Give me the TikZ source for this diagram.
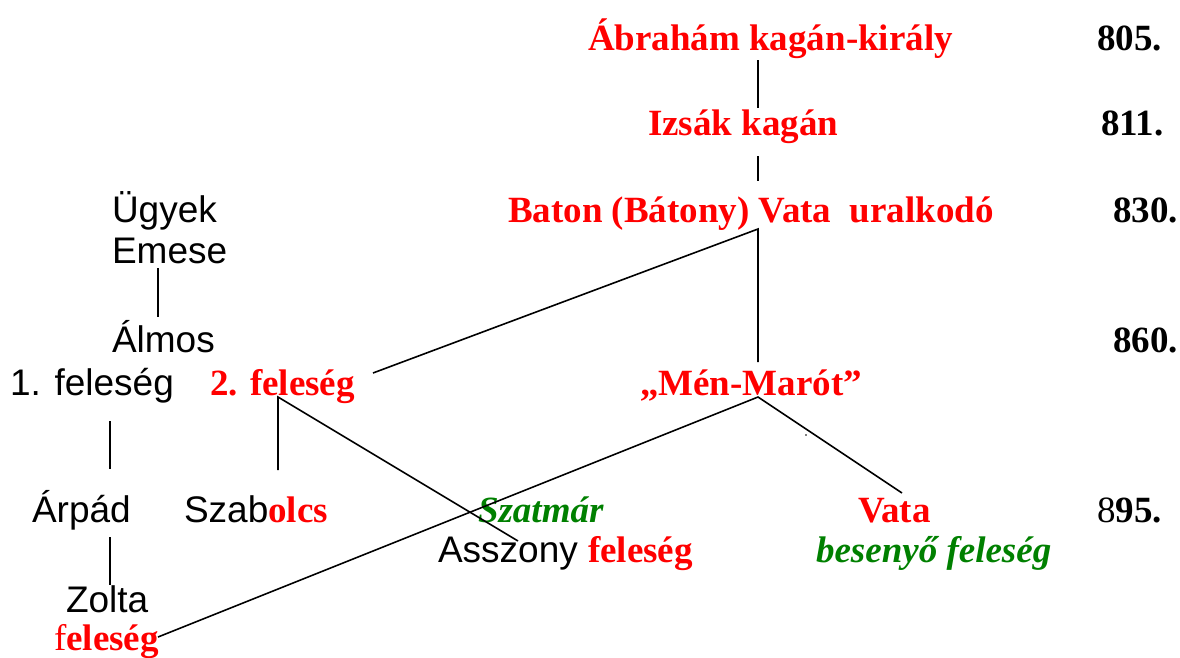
\documentclass[tikz,border=0pt]{standalone}
\usepackage{fontspec}
\setmainfont{Liberation Serif}
\newfontfamily\arialfont{Liberation Sans}
\definecolor{myred}{RGB}{255,0,0}
\definecolor{mygreen}{RGB}{0,128,0}
\newcommand{\fsz}{\fontsize{37}{41}\selectfont}
\tikzset{
  txt/.style={anchor=base west, inner sep=0pt, outer sep=0pt, font=\fsz},
  rb/.style={txt, text=myred, font=\fsz\bfseries},
  kb/.style={txt, text=black, font=\fsz\bfseries},
  sn/.style={txt, text=black, font=\fsz\arialfont},
  gbi/.style={txt, text=mygreen, font=\fsz\bfseries\itshape},
  conn/.style={draw=black, line width=1.6pt}
}
\newcommand{\rbf}[1]{{\color{myred}\rmfamily\bfseries #1}}
\begin{document}
\begin{tikzpicture}[x=1pt,y=-1pt]
\useasboundingbox (0,0) rectangle (1180,657);
% texts
\node[rb] (abr) at (588,50) {Ábrahám kagán-király};
\node[kb] (y805) at (1097,50) {805.};
\node[rb] (izs) at (648,135) {Izsák kagán};
\node[kb] (y811) at (1101,135) {811.};
\node[rb] (bat) at (508,222) {Baton (Bátony) Vata\ \ uralkodó};
\node[kb] (y830) at (1113,222) {830.};
\node[sn] (ugy) at (112,222) {Ügyek};
\node[sn] (eme) at (112,263) {Emese};
\node[sn] (alm) at (112,352) {Álmos};
\node[kb] (y860) at (1113,352) {860.};
\node[sn] (f1) at (10,395) {1. feleség};
\node[rb] (f2) at (210,395) {2. feleség};
\node[rb] (men) at (640,395) {„Mén-Marót”};
\node[sn] (arp) at (32,522) {Árpád};
\node[sn] (szab) at (184,522) {Szab\rbf{olcs}};
\node[gbi] (szat) at (478,522) {Szatmár};
\node[rb] (vata) at (858,522) {Vata};
\node[txt] (y895) at (1097,522) {8\textbf{95.}};
\node[sn] (assz) at (438,562) {Asszony \rbf{feleség}};
\node[gbi] (bes) at (816,562) {besenyő feleség};
\node[sn] (zol) at (66,612) {Zolta};
\node[txt, text=myred] (zf) at (54,650) {f\textbf{eleség}};
% connector points
\coordinate (abrB) at (758,60);
\coordinate (izsT) at (758,108);
\coordinate (izsB) at (758,156);
\coordinate (batT) at (758,181);
\coordinate (batV) at (758,229);
\coordinate (f2R) at (373,373);
\coordinate (menT) at (758,362);
\coordinate (emeB) at (158,268);
\coordinate (almT) at (158,317);
\coordinate (menV) at (758,397);
\coordinate (zfR) at (158,637);
\coordinate (vataT) at (902,493);
\coordinate (f2V) at (278,397);
\coordinate (szabT) at (278,470);
\coordinate (asszT) at (518,541);
\coordinate (f1B) at (110,421);
\coordinate (arpT) at (110,469);
\coordinate (arpB) at (110,537);
\coordinate (zolT) at (110,585);
% connectors
\draw[conn] (abrB) -- (izsT);
\draw[conn] (izsB) -- (batT);
\draw[conn] (f2R) -- (batV) -- (menT);
\draw[conn] (emeB) -- (almT);
\draw[conn] (zfR) -- (menV) -- (vataT);
\draw[conn] (szabT) -- (f2V) -- (asszT);
\draw[conn] (f1B) -- (arpT);
\draw[conn] (arpB) -- (zolT);
\fill[black] (806,435) circle (0.9);
\end{tikzpicture}
\end{document}
